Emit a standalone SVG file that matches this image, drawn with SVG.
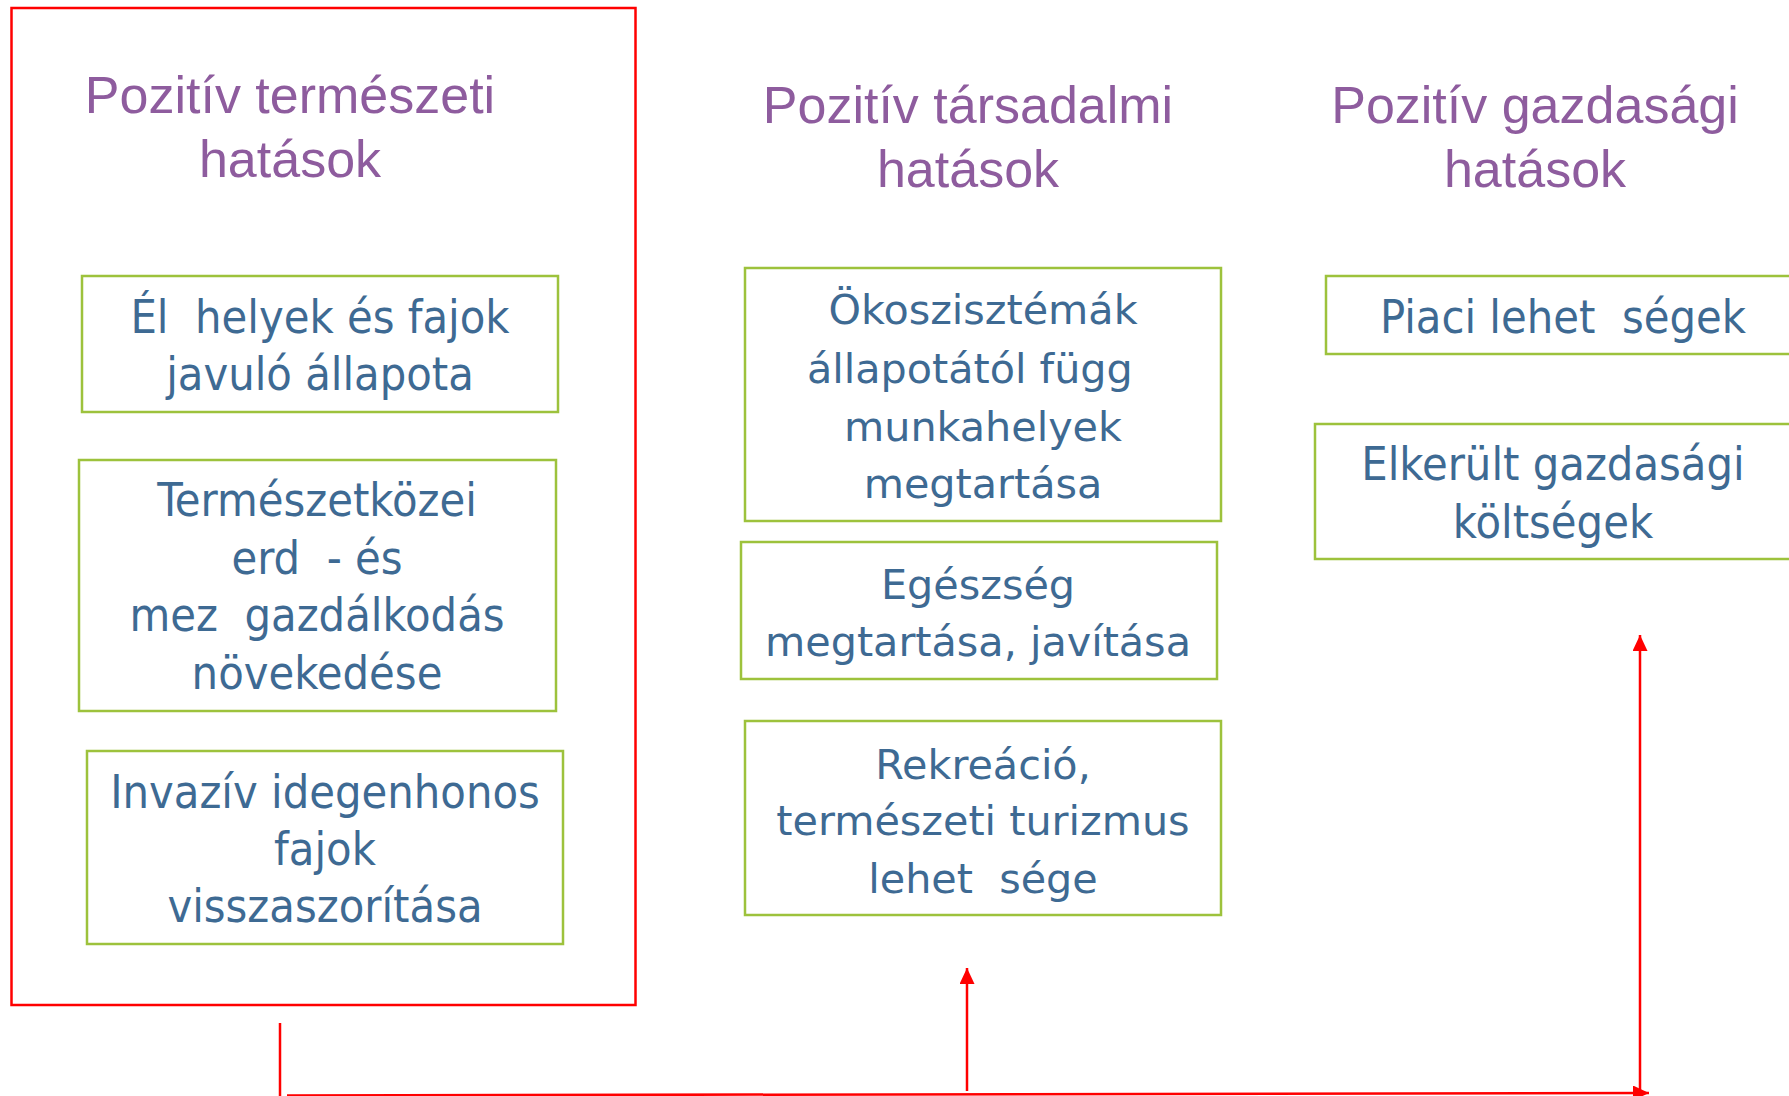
<svg xmlns="http://www.w3.org/2000/svg" width="1789" height="1096" viewBox="0 0 1789 1096">
<style>
.title{font-family:"Liberation Sans",Arial,sans-serif;font-size:52px;fill:#8E5C9E;text-anchor:middle}
.box{fill:#FFFFFF;stroke:#9DC23C;stroke-width:2.5}
.tl{font-family:"DejaVu Sans Condensed","DejaVu Sans",sans-serif;font-stretch:condensed;font-size:46.5px;fill:#3E6A93;text-anchor:middle;white-space:pre}
.tm{font-family:"DejaVu Sans",Verdana,sans-serif;font-size:41.3px;fill:#3E6A93;text-anchor:middle;white-space:pre}
.frame{fill:none;stroke:#FF0000;stroke-width:2.5}
.conn{fill:none;stroke:#FF0000;stroke-width:2.5}
</style>
<defs>
<marker id="arr" markerUnits="userSpaceOnUse" markerWidth="17" markerHeight="16" refX="16" refY="7.5" orient="auto" viewBox="0 0 17 16">
<path d="M0,0 L16,7.5 L0,15 Z" fill="#FF0000"/>
</marker>
</defs>
<rect width="1789" height="1096" fill="#FFFFFF"/>

<g id="frame-termeszeti">
<rect class="frame" x="11.5" y="8" width="624" height="997"/>
</g>

<g id="title-termeszeti">
<text class="title" x="290" y="113">Pozitív természeti</text>
<text class="title" x="290" y="177">hatások</text>
</g>
<g id="title-tarsadalmi">
<text class="title" x="968" y="123">Pozitív társadalmi</text>
<text class="title" x="968" y="187">hatások</text>
</g>
<g id="title-gazdasagi">
<text class="title" x="1535" y="123">Pozitív gazdasági</text>
<text class="title" x="1535" y="187">hatások</text>
</g>

<g id="node-elohelyek">
<rect class="box" x="82" y="276" width="476" height="136"/>
<text class="tl" x="320" y="333">Él  helyek és fajok</text>
<text class="tl" x="320" y="390">javuló állapota</text>
</g>
<g id="node-erdo">
<rect class="box" x="79" y="460" width="477" height="251"/>
<text class="tl" x="317" y="516">Természetközei</text>
<text class="tl" x="317" y="574">erd  - és</text>
<text class="tl" x="317" y="631">mez  gazdálkodás</text>
<text class="tl" x="317" y="689">növekedése</text>
</g>
<g id="node-invaziv">
<rect class="box" x="87" y="751" width="476" height="193"/>
<text class="tl" x="325" y="808">Invazív idegenhonos</text>
<text class="tl" x="325" y="865">fajok</text>
<text class="tl" x="325" y="922">visszaszorítása</text>
</g>

<g id="node-munkahelyek">
<rect class="box" x="745" y="268" width="476" height="253"/>
<text class="tm" x="983" y="324">Ökoszisztémák</text>
<text class="tm" x="983" y="383">állapotától függ  </text>
<text class="tm" x="983" y="441">munkahelyek</text>
<text class="tm" x="983" y="498">megtartása</text>
</g>
<g id="node-egeszseg">
<rect class="box" x="741" y="542" width="476" height="137"/>
<text class="tm" x="978" y="599">Egészség</text>
<text class="tm" x="978" y="656">megtartása, javítása</text>
</g>
<g id="node-rekreacio">
<rect class="box" x="745" y="721" width="476" height="194"/>
<text class="tm" x="983" y="779">Rekreáció,</text>
<text class="tm" x="983" y="835">természeti turizmus</text>
<text class="tm" x="983" y="893">lehet  sége</text>
</g>

<g id="node-piaci">
<rect class="box" x="1326" y="276" width="480" height="78"/>
<text class="tl" x="1563" y="333">Piaci lehet  ségek</text>
</g>
<g id="node-elkerult">
<rect class="box" x="1315" y="424" width="490" height="135"/>
<text class="tl" x="1553" y="480">Elkerült gazdasági</text>
<text class="tl" x="1553" y="538">költségek</text>
</g>

<g id="connectors">
<line class="conn" x1="280" y1="1023" x2="280" y2="1096"/>
<line class="conn" x1="287" y1="1095.5" x2="1649" y2="1093" marker-end="url(#arr)"/>
<line class="conn" x1="967" y1="1091" x2="967" y2="968" marker-end="url(#arr)"/>
<line class="conn" x1="1640" y1="1090" x2="1640" y2="635" marker-end="url(#arr)"/>
</g>
</svg>
